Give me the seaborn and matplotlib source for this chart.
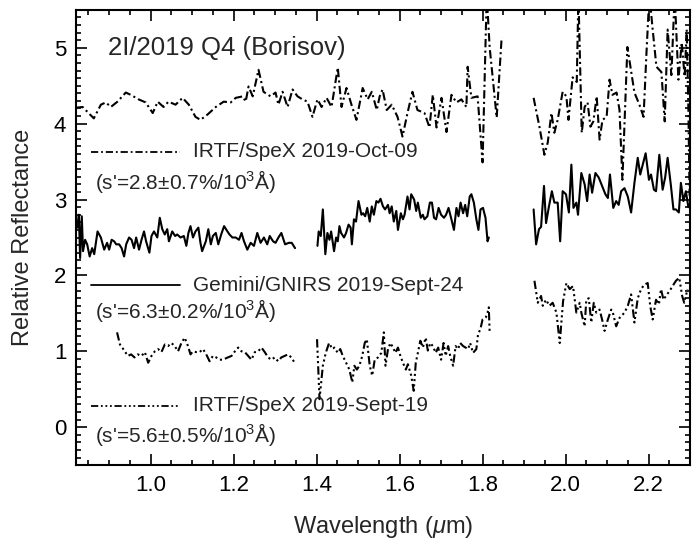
import numpy as np
import pandas as pd
import matplotlib
matplotlib.use("Agg")
import matplotlib.pyplot as plt
from matplotlib.ticker import MultipleLocator
import seaborn as sns

# --- data (wavelength in um, relative reflectance) ---
# IRTF/SpeX 2019-Oct-09 (offset, top)
oct_w1 = [0.819, 0.836, 0.863, 0.880, 0.892, 0.904, 0.920, 0.940, 0.952, 0.971, 0.988, 1.005,
          1.017, 1.031, 1.043, 1.060, 1.077, 1.092, 1.108, 1.120, 1.137, 1.157, 1.176, 1.193,
          1.205, 1.222, 1.229, 1.236, 1.246, 1.260, 1.272, 1.289, 1.301, 1.308, 1.318, 1.330,
          1.342, 1.354, 1.366, 1.378, 1.390, 1.402, 1.412, 1.424, 1.436, 1.451, 1.460, 1.472,
          1.484, 1.496, 1.511, 1.523, 1.533, 1.545, 1.552, 1.559, 1.569, 1.581, 1.595, 1.607,
          1.619, 1.631, 1.643, 1.660, 1.672, 1.680, 1.689, 1.701, 1.713, 1.725, 1.737, 1.749,
          1.761, 1.764, 1.773, 1.788, 1.800, 1.810, 1.817, 1.834, 1.846]
oct_r1 = [4.21, 4.22, 4.07, 4.25, 4.28, 4.22, 4.29, 4.41, 4.38, 4.32, 4.28, 4.14,
          4.29, 4.22, 4.29, 4.25, 4.34, 4.25, 4.09, 4.05, 4.12, 4.22, 4.29, 4.28,
          4.34, 4.36, 4.29, 4.49, 4.36, 4.71, 4.42, 4.36, 4.41, 4.25, 4.42, 4.22,
          4.45, 4.36, 4.32, 4.29, 4.09, 4.32, 4.22, 4.34, 4.22, 4.74, 4.22, 4.47,
          4.25, 4.05, 4.47, 4.32, 4.42, 4.18, 4.36, 4.45, 4.18, 4.25, 4.09, 3.83,
          4.14, 4.42, 4.18, 4.14, 3.95, 4.38, 3.95, 4.34, 3.89, 4.38, 4.28, 4.32,
          4.22, 4.75, 4.34, 4.36, 3.49, 5.70, 5.01, 4.08, 5.14]
oct_w2 = [1.923, 1.937, 1.949, 1.957, 1.966, 1.973, 1.981, 1.993, 2.002, 2.007, 2.017, 2.027,
          2.031, 2.039, 2.046, 2.053, 2.060, 2.067, 2.075, 2.082, 2.089, 2.099, 2.106, 2.113,
          2.123, 2.130, 2.137, 2.149, 2.166, 2.178, 2.188, 2.195, 2.202, 2.210, 2.219, 2.231,
          2.239, 2.246, 2.255, 2.263, 2.272, 2.280, 2.287, 2.292, 2.296, 2.299]
oct_r2 = [4.34, 3.96, 3.59, 3.75, 4.14, 3.88, 4.05, 4.42, 4.36, 4.05, 4.61, 4.55,
          5.70, 3.88, 4.22, 4.28, 3.96, 4.03, 4.36, 3.79, 4.05, 4.09, 4.58, 4.38,
          4.41, 4.18, 3.26, 5.01, 4.41, 4.25, 4.09, 4.93, 5.70, 5.24, 4.75, 4.68,
          4.03, 5.24, 4.64, 5.70, 4.58, 5.07, 4.62, 5.24, 4.20, 3.05]

# Gemini/GNIRS 2019-Sept-24 (middle)
gem_w1 = [0.823, 0.827, 0.830, 0.834, 0.837, 0.842, 0.847, 0.853, 0.859, 0.864, 0.872, 0.880,
          0.888, 0.895, 0.900, 0.906, 0.912, 0.917, 0.924, 0.930, 0.936, 0.941, 0.948, 0.954,
          0.960, 0.965, 0.972, 0.978, 0.984, 0.989, 0.997, 1.002, 1.008, 1.016, 1.022, 1.028,
          1.034, 1.040, 1.044, 1.052, 1.059, 1.064, 1.072, 1.080, 1.086, 1.091, 1.096, 1.102,
          1.108, 1.115, 1.120, 1.124, 1.133, 1.139, 1.145, 1.150, 1.157, 1.163, 1.170, 1.177,
          1.185, 1.190, 1.197, 1.205, 1.213, 1.219, 1.225, 1.233, 1.241, 1.249, 1.257, 1.265,
          1.273, 1.281, 1.287, 1.295, 1.301, 1.308, 1.315, 1.324, 1.333, 1.340, 1.348]
gem_r1 = [2.63, 2.80, 2.23, 2.78, 2.32, 2.47, 2.41, 2.25, 2.36, 2.28, 2.58, 2.50,
          2.34, 2.43, 2.34, 2.47, 2.45, 2.41, 2.41, 2.36, 2.25, 2.41, 2.50, 2.47,
          2.36, 2.50, 2.34, 2.47, 2.58, 2.45, 2.30, 2.52, 2.58, 2.50, 2.76, 2.61,
          2.54, 2.61, 2.45, 2.58, 2.52, 2.54, 2.50, 2.52, 2.39, 2.56, 2.65, 2.50,
          2.58, 2.63, 2.43, 2.32, 2.45, 2.61, 2.41, 2.52, 2.56, 2.41, 2.54, 2.65,
          2.58, 2.54, 2.50, 2.50, 2.47, 2.56, 2.45, 2.34, 2.43, 2.39, 2.56, 2.43,
          2.50, 2.41, 2.52, 2.45, 2.43, 2.50, 2.56, 2.41, 2.43, 2.43, 2.36]
gem_w2 = [1.402, 1.405, 1.410, 1.415, 1.421, 1.426, 1.431, 1.435, 1.442, 1.447, 1.451, 1.455,
          1.459, 1.466, 1.471, 1.477, 1.482, 1.485, 1.490, 1.495, 1.501, 1.508, 1.512, 1.517,
          1.522, 1.528, 1.533, 1.538, 1.544, 1.549, 1.554, 1.560, 1.565, 1.572, 1.576, 1.581,
          1.586, 1.592, 1.596, 1.603, 1.608, 1.612, 1.619, 1.624, 1.628, 1.635, 1.640, 1.644,
          1.651, 1.656, 1.660, 1.667, 1.673, 1.678, 1.683, 1.688, 1.694, 1.700, 1.707, 1.712,
          1.718, 1.724, 1.731, 1.737, 1.742, 1.747, 1.753, 1.758, 1.763, 1.769, 1.773, 1.779,
          1.785, 1.790, 1.795, 1.801, 1.807, 1.812, 1.815]
gem_r2 = [2.39, 2.58, 2.52, 2.87, 2.28, 2.56, 2.47, 2.58, 2.32, 2.50, 2.45, 2.65,
          2.56, 2.50, 2.56, 2.67, 2.63, 2.41, 2.74, 2.71, 2.98, 2.80, 2.82, 2.78,
          2.89, 2.71, 2.91, 2.80, 2.98, 2.96, 3.01, 2.91, 2.87, 2.93, 2.82, 2.91,
          2.71, 2.85, 2.60, 2.82, 2.74, 2.80, 3.04, 2.87, 3.07, 3.00, 2.85, 2.96,
          2.76, 2.80, 2.74, 2.78, 2.96, 2.96, 2.76, 2.74, 2.89, 2.80, 2.76, 2.80,
          2.89, 2.76, 2.60, 2.89, 2.78, 2.96, 2.82, 2.93, 2.78, 3.04, 3.07, 2.96,
          2.74, 2.60, 2.87, 2.89, 2.76, 2.45, 2.50]
gem_w3 = [1.923, 1.929, 1.936, 1.941, 1.948, 1.953, 1.960, 1.967, 1.973, 1.981, 1.987, 1.993,
          2.001, 2.008, 2.014, 2.019, 2.026, 2.030, 2.038, 2.046, 2.052, 2.058, 2.064, 2.072,
          2.080, 2.088, 2.096, 2.102, 2.107, 2.115, 2.122, 2.128, 2.134, 2.142, 2.150, 2.158,
          2.166, 2.174, 2.180, 2.186, 2.193, 2.201, 2.206, 2.213, 2.218, 2.226, 2.234, 2.240,
          2.246, 2.254, 2.260, 2.266, 2.273, 2.278, 2.284, 2.290, 2.296]
gem_r3 = [2.87, 2.41, 2.61, 2.64, 3.18, 2.69, 2.91, 3.11, 2.96, 2.96, 2.45, 3.11,
          3.07, 2.83, 3.46, 2.89, 2.96, 2.80, 3.35, 3.20, 2.98, 3.33, 3.09, 3.35,
          3.29, 3.18, 3.07, 3.02, 3.33, 2.89, 2.98, 2.93, 3.11, 3.15, 3.04, 2.83,
          3.22, 3.55, 3.33, 3.46, 3.61, 3.26, 3.33, 3.13, 3.11, 3.59, 3.13, 3.29,
          3.55, 3.18, 2.87, 2.87, 2.83, 3.22, 2.98, 3.11, 2.90]

# IRTF/SpeX 2019-Sept-19 (bottom)
sep_w1 = [0.919, 0.926, 0.934, 0.945, 0.953, 0.961, 0.969, 0.978, 0.986, 0.994, 1.002, 1.010,
          1.018, 1.026, 1.034, 1.042, 1.050, 1.058, 1.066, 1.074, 1.082, 1.090, 1.096, 1.102,
          1.110, 1.118, 1.126, 1.134, 1.142, 1.150, 1.158, 1.166, 1.174, 1.186, 1.195, 1.203,
          1.211, 1.219, 1.227, 1.235, 1.243, 1.251, 1.259, 1.267, 1.275, 1.283, 1.291, 1.299,
          1.307, 1.315, 1.323, 1.331, 1.339, 1.347]
sep_r1 = [1.25, 1.09, 1.03, 0.94, 0.96, 0.92, 0.96, 0.94, 0.99, 0.85, 0.94, 1.00,
          1.03, 0.99, 1.09, 1.07, 1.11, 1.07, 1.00, 1.11, 1.18, 1.07, 0.96, 1.00,
          0.99, 0.99, 1.03, 0.96, 0.87, 0.94, 0.92, 0.89, 0.89, 0.92, 0.94, 1.00,
          1.05, 1.00, 0.99, 0.94, 0.89, 0.99, 1.00, 1.05, 0.99, 0.92, 0.89, 0.92,
          0.87, 0.92, 0.94, 0.96, 0.92, 0.85]
sep_w2 = [1.401, 1.407, 1.415, 1.422, 1.430, 1.438, 1.443, 1.451, 1.457, 1.463, 1.471, 1.479,
          1.486, 1.491, 1.497, 1.503, 1.510, 1.516, 1.521, 1.528, 1.534, 1.540, 1.548, 1.556,
          1.562, 1.566, 1.572, 1.578, 1.584, 1.590, 1.596, 1.602, 1.608, 1.615, 1.620, 1.628,
          1.634, 1.639, 1.644, 1.650, 1.656, 1.663, 1.668, 1.674, 1.680, 1.687, 1.693, 1.700,
          1.706, 1.711, 1.717, 1.722, 1.729, 1.735, 1.741, 1.746, 1.753, 1.759, 1.765, 1.770,
          1.777, 1.785, 1.789, 1.795, 1.800, 1.808, 1.812, 1.815, 1.817]
sep_r2 = [1.16, 0.37, 0.81, 0.98, 1.11, 1.03, 1.05, 0.98, 1.03, 0.94, 0.85, 0.76,
          0.59, 0.81, 0.76, 0.81, 0.94, 1.11, 1.16, 0.81, 0.68, 0.89, 0.92, 0.98,
          1.25, 0.81, 1.03, 1.11, 1.05, 0.98, 1.05, 0.94, 0.85, 0.76, 0.83, 0.68,
          0.48, 0.85, 0.98, 1.14, 1.05, 1.18, 1.01, 1.11, 1.07, 0.98, 1.05, 0.89,
          1.11, 0.94, 1.07, 0.94, 0.81, 1.07, 1.03, 1.11, 1.07, 1.05, 1.03, 1.11,
          0.98, 1.03, 1.22, 1.30, 1.42, 1.45, 1.51, 1.58, 1.26]
sep_w3 = [1.925, 1.933, 1.941, 1.945, 1.953, 1.961, 1.969, 1.978, 1.986, 1.994, 2.002, 2.010,
          2.018, 2.026, 2.034, 2.038, 2.046, 2.050, 2.056, 2.062, 2.068, 2.074, 2.082, 2.088,
          2.094, 2.102, 2.110, 2.114, 2.122, 2.130, 2.142, 2.150, 2.158, 2.166, 2.174, 2.182,
          2.190, 2.198, 2.204, 2.210, 2.218, 2.225, 2.230, 2.236, 2.242, 2.250, 2.258, 2.266,
          2.274, 2.281, 2.286, 2.294]
sep_r3 = [1.93, 1.64, 1.73, 1.60, 1.68, 1.60, 1.64, 1.51, 1.11, 1.66, 1.90, 1.82,
          1.86, 1.51, 1.64, 1.51, 1.33, 1.68, 1.70, 1.38, 1.64, 1.51, 1.55, 1.42,
          1.27, 1.42, 1.55, 1.51, 1.33, 1.44, 1.51, 1.60, 1.75, 1.38, 1.70, 1.82,
          1.88, 1.90, 1.60, 1.42, 1.68, 1.62, 1.82, 1.68, 1.73, 1.79, 1.86, 1.93,
          1.97, 1.73, 1.64, 1.82]

labels = ["IRTF/SpeX 2019-Oct-09", "Gemini/GNIRS 2019-Sept-24", "IRTF/SpeX 2019-Sept-19"]
slopes = ["(s'=2.8$\\pm$0.7%/10$^3$Å)", "(s'=6.3$\\pm$0.2%/10$^3$Å)", "(s'=5.6$\\pm$0.5%/10$^3$Å)"]


def segments(*pairs):
    frames = []
    for i, (w, r) in enumerate(pairs):
        frames.append(pd.DataFrame({"wavelength": w, "reflectance": r, "segment": i}))
    return pd.concat(frames, ignore_index=True)


spectra = [
    segments((oct_w1, oct_r1), (oct_w2, oct_r2)),
    segments((gem_w1, gem_r1), (gem_w2, gem_r2), (gem_w3, gem_r3)),
    segments((sep_w1, sep_r1), (sep_w2, sep_r2), (sep_w3, sep_r3)),
]
styles = [(0, (4, 1.6, 1, 1.6)), "solid", (0, (4, 1.5, 1, 1.5, 1, 1.5, 1, 1.5))]

sns.set_style("ticks")
plt.rcParams["font.family"] = ["Liberation Sans", "DejaVu Sans"]
plt.rcParams["mathtext.fontset"] = "custom"
plt.rcParams["mathtext.rm"] = "Liberation Sans"
plt.rcParams["mathtext.it"] = "Liberation Sans:italic"

fig = plt.figure(figsize=(6.97, 5.46), dpi=100)
ax = fig.add_axes([0.109, 0.148, 0.881, 0.834])

for df, ls in zip(spectra, styles):
    n_before = len(ax.lines)
    sns.lineplot(data=df, x="wavelength", y="reflectance", units="segment", estimator=None,
                 sort=False, color="black", linewidth=1.5, ax=ax, legend=False)
    for line in ax.lines[n_before:]:
        line.set_linestyle(ls)

# hand-drawn legend samples, as in the original
legend_y = [3.63, 1.87, 0.28]
slope_y = [3.24, 1.54, -0.09]
for lab, sl, ly, sy, ls in zip(labels, slopes, legend_y, slope_y, styles):
    ax.plot([0.856, 1.07], [ly, ly], color="black", linewidth=1.3, linestyle=ls)
    ax.text(1.101, ly, lab, fontsize=15, va="center", ha="left")
    ax.text(0.867, sy, sl, fontsize=15, va="center", ha="left")

ax.text(0.897, 5.0, "2I/2019 Q4 (Borisov)", fontsize=18.5, va="center", ha="left")

ax.set_xlim(0.82, 2.3)
ax.set_ylim(-0.5, 5.5)
ax.xaxis.set_major_locator(MultipleLocator(0.2))
ax.xaxis.set_minor_locator(MultipleLocator(0.05))
ax.yaxis.set_major_locator(MultipleLocator(1))
ax.yaxis.set_minor_locator(MultipleLocator(0.1))
ax.set_xticks([1.0, 1.2, 1.4, 1.6, 1.8, 2.0, 2.2])
ax.set_xticklabels(["1.0", "1.2", "1.4", "1.6", "1.8", "2.0", "2.2"])
ax.tick_params(which="both", direction="in", top=True, right=True, width=1.2, labelsize=16,
               colors="black")
ax.tick_params(which="major", length=8, pad=7)
ax.tick_params(which="minor", length=3.5)
for s in ax.spines.values():
    s.set_linewidth(1.5)
    s.set_color("black")

ax.set_xlabel("Wavelength ($\\mu$m)", fontsize=17, labelpad=13)
ax.set_ylabel("Relative Reflectance", fontsize=17, labelpad=14)

fig.savefig("out.png", dpi=100)
